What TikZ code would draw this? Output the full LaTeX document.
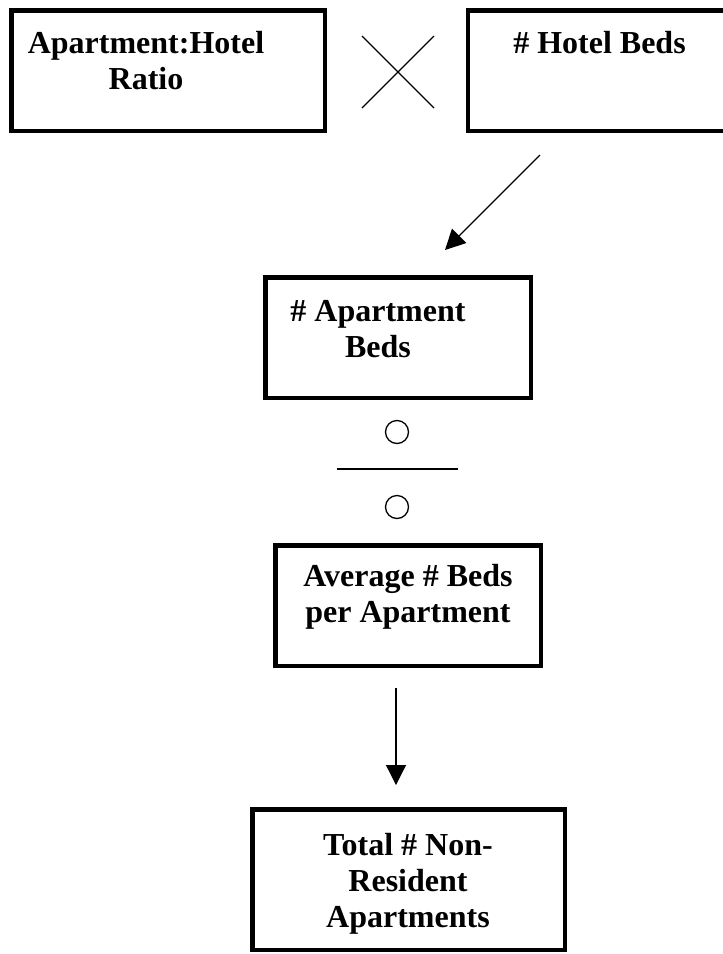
\documentclass[tikz,border=0pt]{standalone}
\usepackage{fontspec}
\setmainfont{Liberation Serif}
\usetikzlibrary{arrows.meta}

\begin{document}
\begin{tikzpicture}[
            x=1pt, y=-1pt,
            box/.style={draw, line width=4.5pt, inner sep=0pt},
            txt/.style={font=\fontsize{32}{36}\selectfont\bfseries, align=center, anchor=base, inner sep=0pt},
            thin/.style={line width=1.3pt},
            arr/.style={thin, -{Triangle[length=20pt, width=20pt]}},
            ]
            \useasboundingbox (0,0) rectangle (723,954);

            % top row: ratio times hotel beds
            \node[box, minimum width=313.5pt, minimum height=120.5pt] (ratio) at (168,70.5) {};
            \node[txt] (ratiotxt) at (146,89) {Apartment:Hotel\\Ratio};
            \draw[thin] (362,36) -- (434,108) (434,36) -- (362,108);
            \node[box, minimum width=391.75pt, minimum height=120.5pt] (hotel) at (664,70.5) {};
            \node[txt] (hoteltxt) at (599.5,53) {\# Hotel Beds};

            \coordinate (a1) at (540,155);
            \coordinate (a2) at (445,250);
            \draw[arr] (a1) -- (a2);

            \node[box, minimum width=265.5pt, minimum height=120.5pt] (aptbeds) at (398,337.5) {};
            \node[txt] (aptbedstxt) at (378,357) {\# Apartment\\Beds};

            % divided by
            \node[thin, draw, circle, minimum size=23pt, inner sep=0pt] (top) at (397,432) {};
            \draw[thin] (337,469) -- (458,469);
            \node[thin, draw, circle, minimum size=23pt, inner sep=0pt] (bot) at (397,507) {};

            \node[box, minimum width=265.5pt, minimum height=120.5pt] (avg) at (408,605.5) {};
            \node[txt] (avgtxt) at (408,622) {Average \# Beds\\per Apartment};

            \coordinate (b1) at (396,688);
            \coordinate (b2) at (396,785);
            \draw[arr] (b1) -- (b2);

            \node[box, minimum width=312.5pt, minimum height=140.5pt] (total) at (408.5,879.5) {};
            \node[txt] (totaltxt) at (408,927) {Total \# Non-\\Resident\\Apartments};
\end{tikzpicture}
\end{document}
